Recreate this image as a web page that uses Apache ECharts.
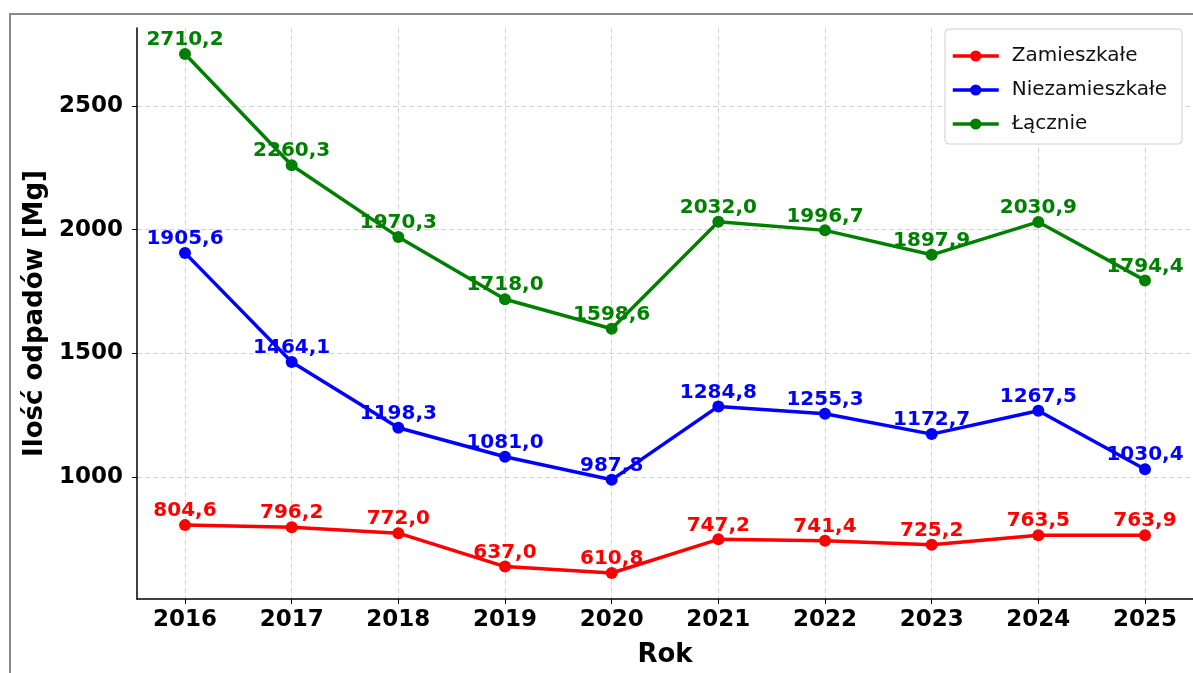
<!DOCTYPE html>
<html>
<head>
<meta charset="utf-8">
<title>Ilość odpadów</title>
<script src="https://cdn.jsdelivr.net/npm/echarts@6/dist/echarts.min.js"></script>
<style>
    html, body { margin: 0; padding: 0; background: #fff; }
    #chart { width: 1193px; height: 673px; }
</style>
</head>
<body>
<div id="chart"></div>
<script>
//---dane----------------------------------
var years = [2016, 2017, 2018, 2019, 2020, 2021, 2022, 2023, 2024, 2025];
var zamieszkale = [804.6, 796.2, 772.0, 637.0, 610.8, 747.2, 741.4, 725.2, 763.5, 763.9];
var niezamieszkale = [1905.6, 1464.1, 1198.3, 1081.0, 987.8, 1284.8, 1255.3, 1172.7, 1267.5, 1030.4];
var lacznie = [2710.2, 2260.3, 1970.3, 1718.0, 1598.6, 2032.0, 1996.7, 1897.9, 2030.9, 1794.4];
var yTicks = [1000, 1500, 2000, 2500];
//----------------------------------------------

var FONT = 'DejaVu Sans';

function pairs(vals) {
    return years.map(function (y, i) { return [y, vals[i]]; });
}

function fmt(v) {
    return v.toFixed(1).replace('.', ',');
}

function makeSeries(name, vals, color) {
    return {
        name: name,
        type: 'line',
        data: pairs(vals),
        symbol: 'circle',
        symbolSize: 12,
        itemStyle: { color: color },
        lineStyle: { color: color, width: 3.5 },
        label: {
            show: true,
            position: 'top',
            distance: 0,
            offset: [0, 2],
            color: color,
            fontFamily: FONT,
            fontWeight: 'bold',
            fontSize: 20,
            formatter: function (p) { return fmt(p.value[1]); }
        },
        emphasis: { disabled: true },
        animation: false
    };
}

var gridLine = { show: true, lineStyle: { color: '#d4d4d4', width: 1, type: [5, 3] } };

var chart = echarts.init(document.getElementById('chart'));
chart.setOption({
    backgroundColor: '#fff',
    animation: false,
    grid: { left: 137, right: 0, top: 28, bottom: 73, containLabel: false },
    graphic: [{
        type: 'rect',
        shape: { x: 10, y: 14, width: 1200, height: 700 },
        style: { fill: 'none', stroke: '#888', lineWidth: 2 },
        z: -1
    }],
    legend: {
        orient: 'vertical',
        left: 945,
        top: 29,
        padding: [17, 15, 10, 6],
        itemWidth: 46,
        itemHeight: 14,
        itemGap: 14,
        backgroundColor: '#fff',
        borderColor: '#d0d0d0',
        borderWidth: 1,
        borderRadius: 4,
        lineStyle: { width: 3.5 },
        textStyle: { fontFamily: FONT, fontSize: 20, color: '#111', lineHeight: 20, padding: [0, 0, 0, 8] },
        data: ['Zamieszkałe', 'Niezamieszkałe', 'Łącznie']
    },
    xAxis: {
        type: 'value',
        min: 2015.55,
        max: 2025.45,
        name: 'Rok',
        nameLocation: 'middle',
        nameGap: 43,
        nameTextStyle: { fontFamily: FONT, fontWeight: 'bold', fontSize: 26, color: '#000' },
        axisLine: { lineStyle: { color: '#000', width: 1.5 } },
        axisTick: { show: true, length: 5, customValues: years, lineStyle: { color: '#000' } },
        axisLabel: {
            customValues: years,
            margin: 10,
            fontFamily: FONT, fontWeight: 'bold', fontSize: 23, color: '#000',
            formatter: function (v) { return String(Math.round(v)); }
        },
        splitLine: gridLine
    },
    yAxis: {
        type: 'value',
        min: 505.8,
        max: 2815.2,
        name: 'Ilość odpadów [Mg]',
        nameLocation: 'middle',
        nameGap: 77,
        nameTextStyle: { fontFamily: FONT, fontWeight: 'bold', fontSize: 26, color: '#000' },
        axisLine: { show: true, lineStyle: { color: '#000', width: 1.5 } },
        axisTick: { show: true, length: 5, customValues: yTicks, lineStyle: { color: '#000' } },
        axisLabel: {
            customValues: yTicks,
            margin: 14,
            fontFamily: FONT, fontWeight: 'bold', fontSize: 23, color: '#000',
            formatter: function (v) { return String(Math.round(v)); }
        },
        splitLine: gridLine
    },
    series: [
        makeSeries('Zamieszkałe', zamieszkale, '#ff0000'),
        makeSeries('Niezamieszkałe', niezamieszkale, '#0000ff'),
        makeSeries('Łącznie', lacznie, '#008000')
    ]
});
</script>
</body>
</html>
